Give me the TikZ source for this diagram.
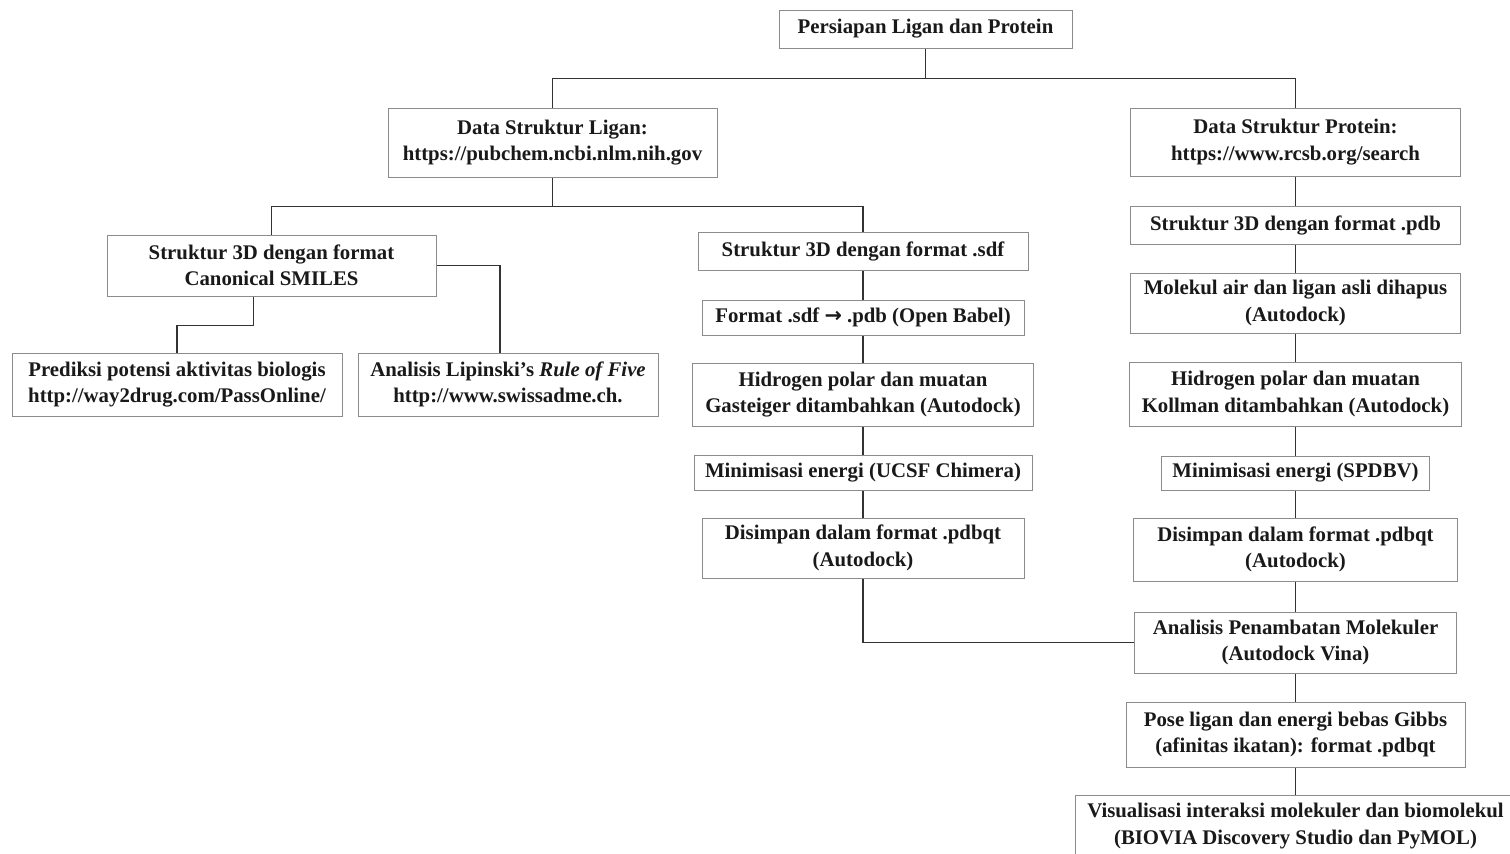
\documentclass[tikz,border=0pt]{standalone}
\usepackage{fontspec}
\setmainfont{Liberation Serif}
\newfontfamily\panahfont{DejaVu Sans}
\usepackage{tikz}
\usetikzlibrary{positioning}

\begin{document}
\begin{tikzpicture}[x=1pt,y=-1pt]
\tikzstyle{kotak}=[draw=black!45,line width=1pt,fill=white,align=center,inner sep=2pt,font=\fontsize{20.8}{26.5}\selectfont\bfseries,text=black!90];
\tikzstyle{garis}=[draw=black!80,line width=1.9pt];
\useasboundingbox (0,0) rectangle (1510,854);
\node[kotak,minimum width=293pt,minimum height=38pt] (persiapan) at (925.5,29) {Persiapan Ligan dan Protein};
\node[kotak,minimum width=329pt,minimum height=69pt] (ligan) at (552.5,142.5) {Data Struktur Ligan:\\https://pubchem.ncbi.nlm.nih.gov};
\node[kotak,minimum width=330pt,minimum height=68pt] (protein) at (1295.5,142) {Data Struktur Protein:\\https://www.rcsb.org/search};
\node[kotak,minimum width=329pt,minimum height=61pt] (smiles) at (271.5,265.5) {Struktur 3D dengan format\\Canonical SMILES};
\node[kotak,minimum width=330pt,minimum height=63pt] (prediksi) at (177,384.5) {Prediksi potensi aktivitas biologis\\http://way2drug.com/PassOnline/};
\node[kotak,minimum width=300pt,minimum height=63pt] (lipinski) at (508,384.5) {Analisis Lipinski’s \textit{Rule of Five}\\http://www.swissadme.ch.};
\node[kotak,minimum width=330pt,minimum height=38pt] (sdf) at (863,251) {Struktur 3D dengan format .sdf};
\node[kotak,minimum width=322pt,minimum height=35pt] (babel) at (863,317.5) {Format .sdf {\panahfont\bfseries →} .pdb (Open Babel)};
\node[kotak,minimum width=341pt,minimum height=63pt] (gasteiger) at (863,394.5) {Hidrogen polar dan muatan\\Gasteiger ditambahkan (Autodock)};
\node[kotak,minimum width=338pt,minimum height=35pt] (ucsf) at (863,472.5) {Minimisasi energi (UCSF Chimera)};
\node[kotak,minimum width=322pt,minimum height=60pt] (simpanL) at (863,548) {Disimpan dalam format .pdbqt\\(Autodock)};
\node[kotak,minimum width=330pt,minimum height=38pt] (pdb) at (1295.5,225) {Struktur 3D dengan format .pdb};
\node[kotak,minimum width=330pt,minimum height=60pt] (air) at (1295.5,303) {Molekul air dan ligan asli dihapus\\(Autodock)};
\node[kotak,minimum width=332pt,minimum height=64pt] (kollman) at (1295.5,394) {Hidrogen polar dan muatan\\Kollman ditambahkan (Autodock)};
\node[kotak,minimum width=268pt,minimum height=34pt] (spdbv) at (1295.5,473) {Minimisasi energi (SPDBV)};
\node[kotak,minimum width=324pt,minimum height=63pt] (simpanR) at (1295.5,549.5) {Disimpan dalam format .pdbqt\\(Autodock)};
\node[kotak,minimum width=322pt,minimum height=61pt] (analisis) at (1295.5,642.5) {Analisis Penambatan Molekuler\\(Autodock Vina)};
\node[kotak,minimum width=339pt,minimum height=65pt] (pose) at (1295.5,734.5) {Pose ligan dan energi bebas Gibbs\\(afinitas ikatan): format .pdbqt};
\node[kotak,minimum width=440pt,minimum height=62pt] (visual) at (1295.5,826) {Visualisasi interaksi molekuler dan biomolekul\\(BIOVIA Discovery Studio dan PyMOL)};
\draw[garis] (persiapan.south) -- ++(0,30) coordinate (cabang1) -| (ligan.north);
\draw[garis] (cabang1) -| (protein.north);
\draw[garis] (ligan.south) -- ++(0,29) coordinate (cabang2) -| (smiles.north);
\draw[garis] (cabang2) -| (sdf.north);
\draw[garis] ([xshift=-18pt]smiles.south) -- ++(0,29) -| (prediksi.north);
\draw[garis] (smiles.east) -| ([xshift=-8pt]lipinski.north);
\draw[garis] (sdf) -- (babel) -- (gasteiger) -- (ucsf) -- (simpanL);
\draw[garis] (simpanL.south) |- (analisis.west);
\draw[garis] (protein) -- (pdb) -- (air) -- (kollman) -- (spdbv) -- (simpanR) -- (analisis) -- (pose) -- (visual);
\end{tikzpicture}
\end{document}
